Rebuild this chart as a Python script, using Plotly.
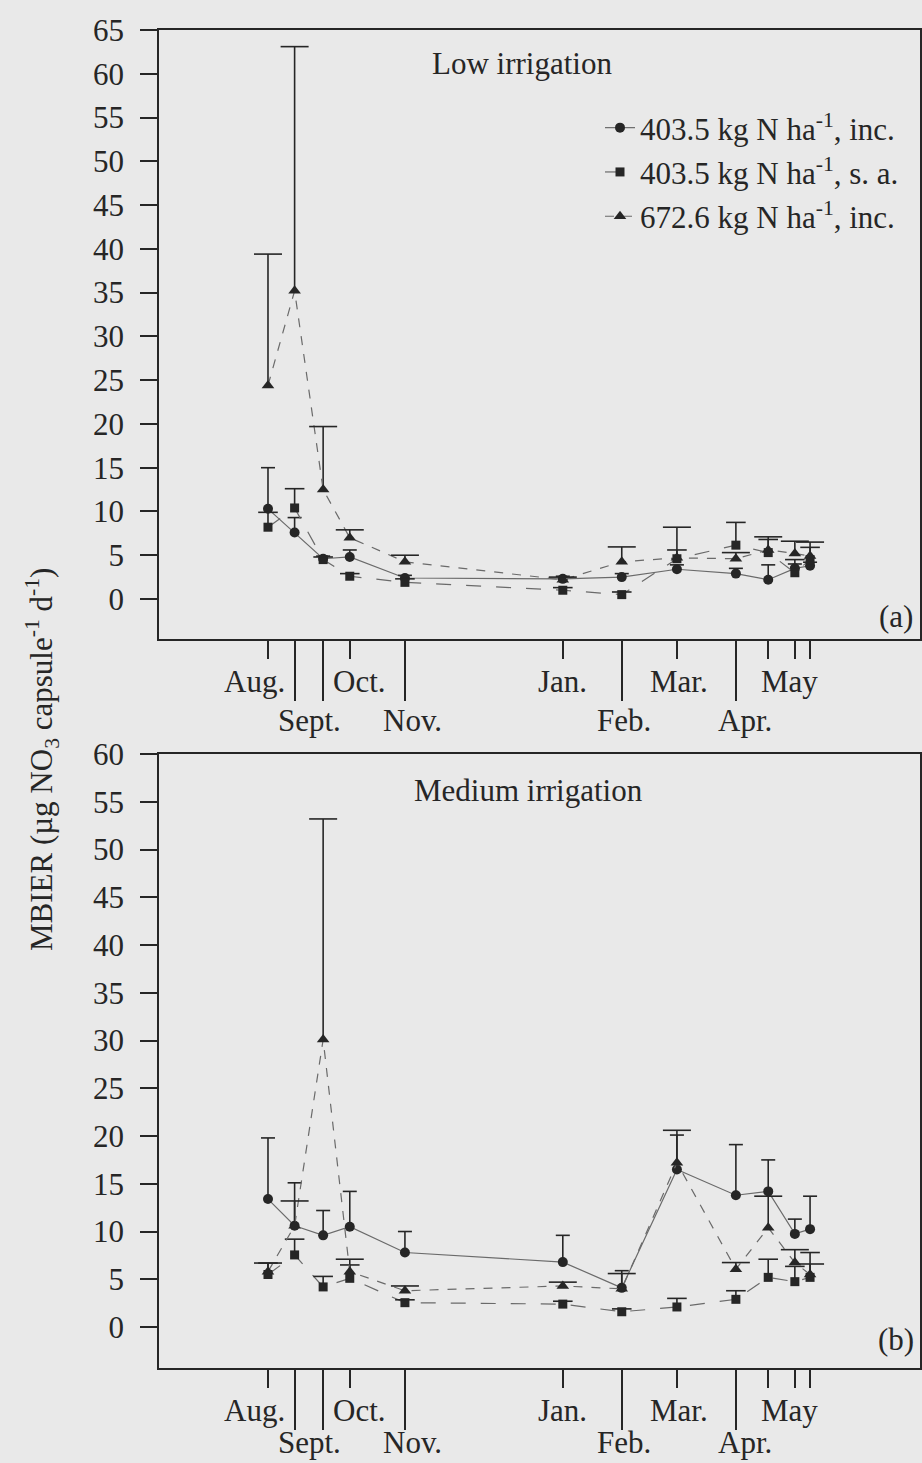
import plotly.graph_objects as go

# ---------------- data ----------------
# sampling dates (days since 1 Aug)
dates = [14, 28, 43, 57, 86, 169, 200, 229, 260, 277, 291, 299]
short_ticks = [14, 57, 169, 229, 277, 291, 299]
long_ticks = [28, 43, 86, 200, 260]
row1_labels = ["Aug.", "Oct.", "Jan.", "Mar.", "May"]
row1_pos = [7, 62, 169, 230, 288]
row2_labels = ["Sept.", "Nov.", "Feb.", "Apr."]
row2_pos = [36, 90, 201, 265]

series_names = ["403.5 kg N ha<sup>-1</sup>, inc.",
                "403.5 kg N ha<sup>-1</sup>, s. a.",
                "672.6 kg N ha<sup>-1</sup>, inc."]

# (a) Low irrigation
low_403_inc = [10.3, 7.6, 4.6, 4.8, 2.4, 2.3, 2.5, 3.4, 2.9, 2.2, 3.5, 3.8]
low_403_inc_sd = [4.7, 1.7, 0.3, 0.8, 0.3, 0.3, 0.4, 0.5, 0.6, 1.7, 0.5, 0.4]
low_403_sa = [8.2, 10.4, 4.5, 2.6, 1.9, 1.0, 0.5, 4.6, 6.15, 5.3, 3.0, 4.5]
low_403_sa_sd = [1.7, 2.2, 0.3, 0.3, 0.4, 0.3, 0.3, 1.0, 2.6, 1.5, 1.5, 1.4]
low_672_inc = [24.4, 35.2, 12.5, 7.0, 4.25, 2.2, 4.25, 4.7, 4.6, 5.6, 5.2, 4.9]
low_672_inc_sd = [15.0, 27.9, 7.2, 0.9, 0.75, 0.3, 1.7, 3.5, 0.7, 1.5, 1.4, 1.6]

# (b) Medium irrigation
med_403_inc = [13.4, 10.6, 9.6, 10.5, 7.8, 6.8, 4.1, 16.5, 13.8, 14.2, 9.75, 10.25]
med_403_inc_sd = [6.4, 4.5, 2.6, 3.7, 2.2, 2.8, 1.8, 3.6, 5.3, 3.3, 1.55, 3.45]
med_403_sa = [5.5, 7.55, 4.2, 5.1, 2.55, 2.4, 1.6, 2.1, 2.9, 5.2, 4.75, 5.2]
med_403_sa_sd = [1.2, 1.65, 1.1, 1.4, 0.3, 0.3, 0.3, 0.9, 0.9, 1.9, 1.6, 2.6]
med_672_inc = [5.8, 10.6, 30.1, 5.8, 3.8, 4.3, 4.0, 17.2, 6.05, 10.4, 6.75, 5.5]
med_672_inc_sd = [0.9, 2.6, 23.1, 1.3, 0.5, 0.4, 1.6, 3.4, 0.7, 3.3, 1.35, 1.1]

# ---------------- styling ----------------
FONT = "Liberation Serif"
FS = 31
INK = "#262626"
LINE_GREY = "#6a6a6a"
BG = "#e9e9e9"
symbols = ["circle", "square", "triangle-up"]
msizes = [10, 9, 11]
dashes = ["solid", "longdash", "dash"]
capw = [10, 14, 20]

fig = go.Figure()

panels = [
    ("x", "y", [(low_403_inc, low_403_inc_sd), (low_403_sa, low_403_sa_sd),
                (low_672_inc, low_672_inc_sd)], True),
    ("x2", "y2", [(med_403_inc, med_403_inc_sd), (med_403_sa, med_403_sa_sd),
                  (med_672_inc, med_672_inc_sd)], False),
]

for xa, ya, data, show_leg in panels:
    for i, (vals, sds) in enumerate(data):
        fig.add_trace(go.Scatter(
            x=dates, y=vals, xaxis=xa, yaxis=ya,
            mode="lines+markers", name=series_names[i],
            legendgroup=f"g{i}", showlegend=show_leg,
            line=dict(color=LINE_GREY, width=1.2, dash=dashes[i]),
            marker=dict(symbol=symbols[i], size=msizes[i], color=INK),
            error_y=dict(type="data", array=sds, arrayminus=[0] * len(sds),
                         symmetric=False, width=0, thickness=1.6, color=INK),
        ))
        fig.add_trace(go.Scatter(
            x=dates, y=[v + s for v, s in zip(vals, sds)], xaxis=xa, yaxis=ya,
            mode="markers", showlegend=False, hoverinfo="skip",
            marker=dict(symbol="line-ew", size=capw[i], color=INK,
                        line=dict(width=1.6, color=INK)),
        ))

W, H = 922, 1463
ML, MR = 159, 2
PW = W - ML - MR
xrange_ = [-43.3, 356.8]


def xaxis_cfg(anchor):
    return dict(
        domain=[0, 1], anchor=anchor, range=xrange_, showline=True, mirror=True,
        linecolor=INK, linewidth=1.5, showgrid=False, zeroline=False,
        ticks="outside", tickmode="array", tickvals=long_ticks, ticklen=60,
        tickwidth=1.5, tickcolor=INK, showticklabels=False, automargin=False,
        minor=dict(tickmode="array", tickvals=short_ticks, ticks="outside",
                   ticklen=18, tickwidth=1.5, tickcolor=INK, showgrid=False),
    )


def yaxis_cfg(anchor, dom, rng, top):
    return dict(
        domain=dom, anchor=anchor, range=rng, showline=True, mirror=True,
        linecolor=INK, linewidth=1.5, showgrid=False, zeroline=False,
        ticks="outside", tickmode="array", tickvals=list(range(0, top + 1, 5)),
        ticklen=17, tickwidth=1.5, tickcolor=INK, ticklabelstandoff=10,
        tickfont=dict(family=FONT, size=FS, color=INK), automargin=False,
    )


fig.update_layout(
    width=W, height=H, margin=dict(l=ML, r=MR, t=0, b=0),
    paper_bgcolor=BG, plot_bgcolor=BG,
    font=dict(family=FONT, color=INK, size=FS),
    xaxis=xaxis_cfg("y"),
    xaxis2=xaxis_cfg("y2"),
    yaxis=yaxis_cfg("x", [(H - 639) / H, (H - 30) / H], [-4.57, 65], 65),
    yaxis2=yaxis_cfg("x2", [(H - 1368) / H, (H - 754) / H], [-4.29, 60], 60),
    showlegend=True,
    legend=dict(x=(600 - ML) / PW, y=(H - 101) / H, xanchor="left",
                yanchor="top", bgcolor="rgba(0,0,0,0)", borderwidth=0,
                font=dict(family=FONT, size=FS, color=INK),
                traceorder="grouped", tracegroupgap=1, itemwidth=30),
)

annotations = []
for yref in ["y domain", "y2 domain"]:
    xref = "x" if yref == "y domain" else "x2"
    for lab, pos in zip(row1_labels, row1_pos):
        annotations.append(dict(text=lab, x=pos, xref=xref, y=0, yref=yref,
                                yshift=-42, showarrow=False, yanchor="middle",
                                xanchor="center"))
    for lab, pos in zip(row2_labels, row2_pos):
        annotations.append(dict(text=lab, x=pos, xref=xref, y=0, yref=yref,
                                yshift=-81 if yref == "y domain" else -74,
                                showarrow=False, yanchor="middle",
                                xanchor="center"))

annotations += [
    dict(text="Low irrigation", x=(522 - ML) / PW, xref="paper", y=(H - 63) / H,
         yref="paper", showarrow=False, xanchor="center", yanchor="middle"),
    dict(text="Medium irrigation", x=(528 - ML) / PW, xref="paper",
         y=(H - 790) / H, yref="paper", showarrow=False, xanchor="center",
         yanchor="middle"),
    dict(text="(a)", x=(896 - ML) / PW, xref="paper", y=(H - 616) / H,
         yref="paper", showarrow=False, xanchor="center", yanchor="middle"),
    dict(text="(b)", x=(896 - ML) / PW, xref="paper", y=(H - 1339) / H,
         yref="paper", showarrow=False, xanchor="center", yanchor="middle"),
    dict(text="MBIER (µg NO<sub>3</sub> capsule<sup>-1</sup> d<sup>-1</sup>)",
         x=(42 - ML) / PW, xref="paper", y=(H - 760) / H, yref="paper",
         textangle=-90, showarrow=False, xanchor="center", yanchor="middle",
         font=dict(family=FONT, size=FS, color=INK)),
]
fig.update_layout(annotations=annotations)

fig.write_html("out.html")
